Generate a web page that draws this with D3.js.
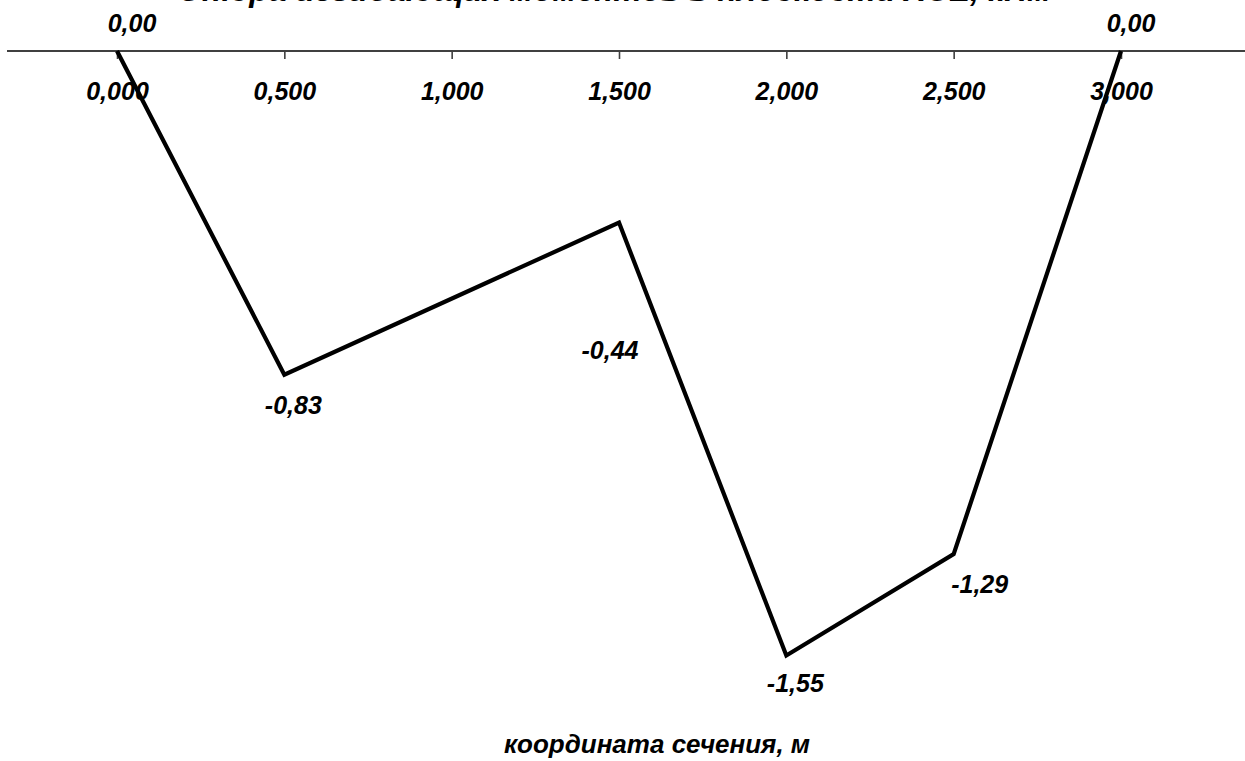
<!DOCTYPE html>
<html>
<head>
<meta charset="utf-8">
<script src="https://cdn.jsdelivr.net/npm/d3@7"></script>
<style>
  html, body { margin: 0; padding: 0; background: #ffffff; }
  svg { display: block; }
  text { font-family: "Liberation Sans", Arial, sans-serif; font-weight: bold; font-style: italic; fill: #000; }
</style>
</head>
<body>
<svg id="chart" width="1245" height="761"></svg>
<script>
// Bending moment diagram: section coordinate (m) vs moment (kN·m)
const coords  = [0, 0.5, 1.5, 2.0, 2.5, 3.0];
const moments = [0.00, -0.83, -0.44, -1.55, -1.29, 0.00];
const tickValues = [0, 0.5, 1.0, 1.5, 2.0, 2.5, 3.0];
const titleText = "Эпюра изгибающих моментов в плоскости XOZ, кНм";
const axisTitleText = "координата сечения, м";
// label nudges (dx, dy) relative to each vertex
const labelNudge = [[15, -19], [9, 39], [-9, 136], [9, 36], [26, 39], [10, -19]];

const W = 1245, H = 761;
const svg = d3.select("#chart");

const ru = d3.formatLocale({ decimal: ",", thousands: " ", grouping: [3], currency: ["", ""], minus: "-" });
const fmtTick = ru.format(".3f");
const fmtVal = ru.format(".2f");

const x = d3.scaleLinear().domain([0, 3]).range([117, 1121]);
const y = d3.scaleLinear().domain([0, -1.6]).range([51, 675]);

// title (runs off the top edge)
svg.append("text")
  .attr("x", 615).attr("y", 1)
  .attr("text-anchor", "middle")
  .style("font-size", "32px")
  .text(titleText);

// x axis along zero moment
const axisG = svg.append("g").attr("transform", `translate(0,${y(0)})`);
axisG.append("line")
  .attr("x1", 7).attr("x2", W)
  .attr("stroke", "#404040").attr("stroke-width", 2);
const xAxis = d3.axisBottom(x).tickValues(tickValues).tickSize(8).tickFormat(fmtTick);
const gAx = axisG.append("g").call(xAxis);
gAx.select(".domain").remove();
gAx.selectAll(".tick line").attr("stroke", "#404040").attr("stroke-width", 1.6);
gAx.selectAll(".tick text")
  .attr("y", 49).attr("dy", null)
  .attr("fill", "#000")
  .style("font-size", "25px")
  .style("font-family", "'Liberation Sans', Arial, sans-serif")
  .style("font-weight", "bold").style("font-style", "italic");

// moment line
const pts = coords.map((c, i) => [c, moments[i]]);
svg.append("path")
  .datum(pts)
  .attr("fill", "none")
  .attr("stroke", "#000")
  .attr("stroke-width", 4.2)
  .attr("stroke-linejoin", "miter")
  .attr("d", d3.line().x(d => x(d[0])).y(d => y(d[1])));

// value labels
svg.append("g").selectAll("text")
  .data(pts)
  .join("text")
  .attr("x", (d, i) => x(d[0]) + labelNudge[i][0])
  .attr("y", (d, i) => y(d[1]) + labelNudge[i][1])
  .attr("text-anchor", "middle")
  .style("font-size", "25px")
  .text(d => fmtVal(d[1]));

// axis title
svg.append("text")
  .attr("x", 657).attr("y", 753)
  .attr("text-anchor", "middle")
  .style("font-size", "26px")
  .text(axisTitleText);
</script>
</body>
</html>
